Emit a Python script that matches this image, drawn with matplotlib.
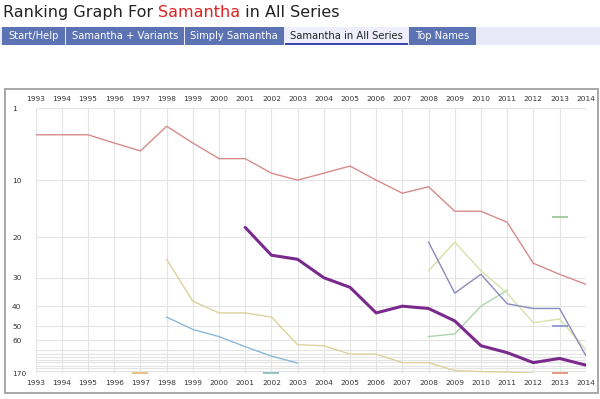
import numpy as np
import matplotlib
matplotlib.use('Agg')
import matplotlib.pyplot as plt
from matplotlib.patches import Rectangle

# ---------------- data ----------------
years = list(range(1993, 2015))
rank_ticks = [1, 10, 20, 30, 40, 50, 60, 170]
rank_tick_labels = ['1', '10', '20', '30', '40', '50', '60', '170']
minor_ranks = [70, 75, 80, 85, 90, 100, 110, 125]

red_years = list(range(1993, 2015))
red_ranks = [4, 4, 4, 5, 6, 3, 5, 7, 7, 9, 10, 9, 8, 10, 12, 11, 15, 15, 17, 26, 29, 32]

purple_years = list(range(2001, 2015))
purple_ranks = [18, 24, 25, 30, 33, 43, 40, 41, 47, 65, 73, 91, 82, 98]

khaki_years = list(range(1998, 2013))
khaki_ranks = [25, 38, 43, 43, 45, 64, 65, 75, 75, 91, 91, 125, 135, 140, 160]

blue_years = list(range(1998, 2004))
blue_ranks = [45, 52, 57, 66, 78, 92]

lime_years = list(range(2008, 2015))
lime_ranks = [28, 21, 28, 35, 48, 46, 69]

slate_years = list(range(2008, 2015))
slate_ranks = [21, 35, 29, 39, 41, 41, 77]

green_years = list(range(2008, 2012))
green_ranks = [57, 55, 40, 34]

single_years = [2013, 2013, 1997, 2002, 2013]
single_ranks = [16, 50, 150, 150, 150]
single_colors = ['#98cc98', '#8c98d0', '#e8b878', '#8cbcbc', '#e49470']

title_parts = ["Ranking Graph For ", "Samantha", " in All Series"]
title_colors = ['#222222', '#dd2222', '#222222']
tab_labels = ["Start/Help", "Samantha + Variants", "Simply Samantha",
              "Samantha in All Series", "Top Names"]
active_tab = 3

# ---------------- scale ----------------
K = 0.035
def fwd(r):
    r = np.asarray(r, dtype=float)
    return 1.0 - np.exp(-K * r)

def inv(v):
    v = np.clip(np.asarray(v, dtype=float), -1e9, 1 - 1e-12)
    return -np.log(1.0 - v) / K

W, H = 600, 399
fig = plt.figure(figsize=(6, 3.99), dpi=100)
fig.patch.set_facecolor('white')

# overlay in pixel coordinates for page chrome
bg = fig.add_axes([0, 0, 1, 1], zorder=0)
bg.set_xlim(0, W)
bg.set_ylim(H, 0)
bg.axis('off')

# tab strip
bg.add_patch(Rectangle((0, 27), W, 18, facecolor='#e9e9f9', edgecolor='none'))
tab_edges = [2, 66, 185, 285, 409, 477]
for i, lab in enumerate(tab_labels):
    x0, x1 = tab_edges[i], tab_edges[i + 1] - 1.5
    if i == active_tab:
        bg.add_patch(Rectangle((x0, 27), x1 - x0, 18, facecolor='#eeeefc', edgecolor='none'))
        bg.add_patch(Rectangle((x0, 43.3), x1 - x0, 1.7, facecolor='#3b46b0', edgecolor='none'))
        col = '#222222'
    else:
        bg.add_patch(Rectangle((x0, 27), x1 - x0, 18, facecolor='#5b72b3', edgecolor='none'))
        col = 'white'
    bg.text((x0 + x1) / 2, 36, lab, color=col, fontsize=7.2, ha='center', va='center',
            family='DejaVu Sans')

# chart frame
bg.add_patch(Rectangle((5, 89), 593, 304, facecolor='white', edgecolor='#a0a0a0', lw=1.3))

# title (multi-colour)
fig.canvas.draw()
renderer = fig.canvas.get_renderer()
x = 3
for part, c in zip(title_parts, title_colors):
    t = bg.text(x, 17, part, color=c, fontsize=11.5, ha='left', va='baseline',
                family='DejaVu Sans')
    bb = t.get_window_extent(renderer=renderer)
    x += bb.width * W / fig.bbox.width

# ---------------- chart ----------------
ax = fig.add_axes([35.7 / W, (H - 373.3) / H, 550 / W, 265 / H], zorder=1)
ax.set_facecolor('none')
ax.set_yscale('function', functions=(fwd, inv))
ax.set_xlim(1993, 2014)
ax.set_ylim(170, 1)

ax.set_xticks(years)
ax.set_xticklabels([str(y) for y in years])
ax.set_yticks(rank_ticks)
ax.set_yticklabels(rank_tick_labels)
ax.tick_params(axis='x', which='both', length=0, labelsize=5.3, labelcolor='#333333',
               top=False, labeltop=True, pad=4.5)
ax.tick_params(axis='y', which='both', length=0, labelsize=5.3, labelcolor='#333333',
               pad=17)
for lab in ax.get_yticklabels():
    lab.set_horizontalalignment('left')
ax.xaxis.set_minor_locator(matplotlib.ticker.NullLocator())
ax.set_yticks(minor_ranks, minor=True)
ax.grid(True, which='major', color='#e4e4e4', lw=0.8)
ax.grid(True, which='minor', axis='y', color='#e4e4e4', lw=0.8)
for s in ax.spines.values():
    s.set_visible(False)
ax.set_axisbelow(True)

ax.plot(red_years, red_ranks, color='#d88a8a', lw=1.0)
ax.plot(khaki_years, khaki_ranks, color='#dcd29a', lw=1.0)
ax.plot(blue_years, blue_ranks, color='#8cb8d8', lw=1.0)
ax.plot(green_years, green_ranks, color='#acd4ac', lw=1.0)
ax.plot(lime_years, lime_ranks, color='#d6e2a6', lw=1.0)
ax.plot(slate_years, slate_ranks, color='#8a8abc', lw=1.0)
ax.plot(purple_years, purple_ranks, color='#7a2a8c', lw=2.2, solid_capstyle='round')
for yr, rk, c in zip(single_years, single_ranks, single_colors):
    ax.plot([yr], [rk], marker='_', markersize=11, mew=1.3, color=c, clip_on=False)

fig.savefig('out.png', dpi=100, facecolor='white')
